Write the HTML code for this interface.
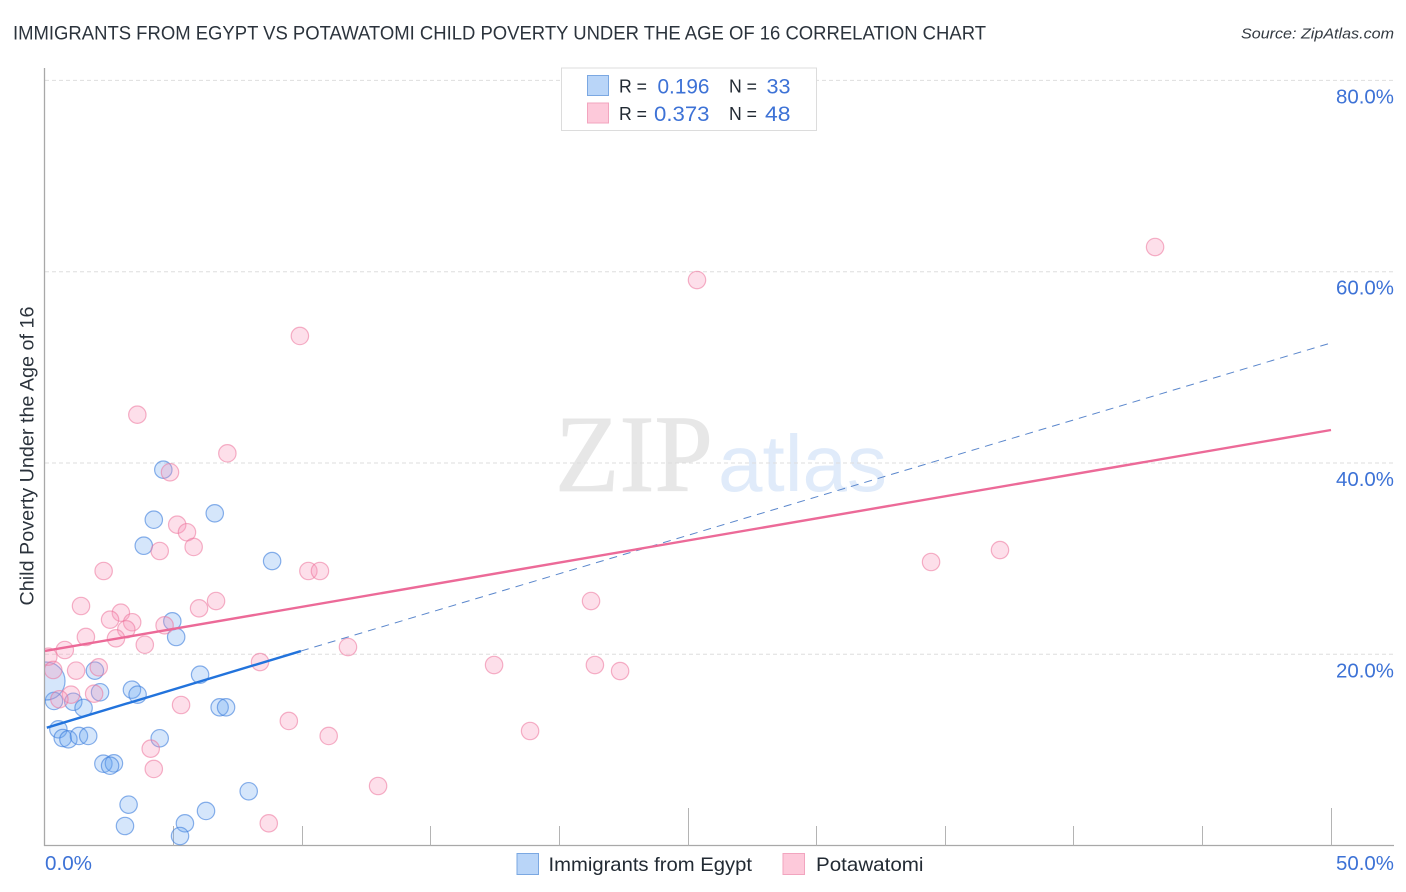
<!DOCTYPE html>
<html lang="en">
<head>
<meta charset="utf-8">
<title>Immigrants from Egypt vs Potawatomi Child Poverty Under the Age of 16 Correlation Chart</title>
<style>
html,body{margin:0;padding:0;background:#fff;}
body{width:1406px;height:892px;overflow:hidden;}
svg{display:block;font-family:"Liberation Sans",sans-serif;}
</style>
</head>
<body>
<svg id="chart" width="1406" height="892" viewBox="0 0 1406 892" xmlns="http://www.w3.org/2000/svg">
  <defs><clipPath id="plot-clip"><rect x="45" y="60" width="1349" height="785.5"/></clipPath></defs>
  <text x="13" y="39.5" font-size="19.5" fill="#2b333c" textLength="973" lengthAdjust="spacingAndGlyphs">IMMIGRANTS FROM EGYPT VS POTAWATOMI CHILD POVERTY UNDER THE AGE OF 16 CORRELATION CHART</text>
  <text x="1241" y="38.5" font-size="15" font-style="italic" fill="#333a42" textLength="153" lengthAdjust="spacingAndGlyphs">Source: ZipAtlas.com</text>
  <g>
    <text x="555" y="491" font-family="'Liberation Serif',serif" font-size="110" fill="#e7e7e7" stroke="#e7e7e7" stroke-width="0.8" textLength="158" lengthAdjust="spacingAndGlyphs">ZIP</text>
    <text x="718" y="491" font-size="80" fill="#e0ebfa" textLength="169" lengthAdjust="spacingAndGlyphs">atlas</text>
  </g>
  <g id="grid"></g>
  <g id="axes"></g>
  <g id="series-blue" clip-path="url(#plot-clip)"></g>
  <g id="series-pink" clip-path="url(#plot-clip)"></g>
  <g id="trends"></g>
  <g id="tick-labels"></g>
  <text transform="translate(33.5,605.5) rotate(-90)" font-size="19.5" fill="#2b333c" textLength="299" lengthAdjust="spacingAndGlyphs">Child Poverty Under the Age of 16</text>

  <g>
    <rect x="561.5" y="68" width="255" height="62.5" fill="#fff" stroke="#dcdcdc" stroke-width="1"/>
    <rect x="587.5" y="75.5" width="21" height="20" fill="#b9d5f8" stroke="#7ba8e2"/>
    <rect x="587.5" y="103" width="21" height="20" fill="#fdc9da" stroke="#f2a5bf"/>
    <text x="619" y="92.5" font-size="18.5" fill="#222a33" textLength="28" lengthAdjust="spacingAndGlyphs">R =</text>
    <text x="657.5" y="93.5" font-size="21" fill="#3d72d6" textLength="52" lengthAdjust="spacingAndGlyphs">0.196</text>
    <text x="729" y="92.5" font-size="18.5" fill="#222a33" textLength="28" lengthAdjust="spacingAndGlyphs">N =</text>
    <text x="766.5" y="93.5" font-size="21" fill="#3d72d6" textLength="24" lengthAdjust="spacingAndGlyphs">33</text>
    <text x="619" y="120" font-size="18.5" fill="#222a33" textLength="28" lengthAdjust="spacingAndGlyphs">R =</text>
    <text x="654" y="121" font-size="21" fill="#3d72d6" textLength="55.5" lengthAdjust="spacingAndGlyphs">0.373</text>
    <text x="729" y="120" font-size="18.5" fill="#222a33" textLength="28" lengthAdjust="spacingAndGlyphs">N =</text>
    <text x="765" y="121" font-size="21" fill="#3d72d6" textLength="25.5" lengthAdjust="spacingAndGlyphs">48</text>
  </g>

  <g>
    <rect x="517" y="853.5" width="21.5" height="21" fill="#b9d5f8" stroke="#7ba8e2"/>
    <text x="548.5" y="871" font-size="19.5" fill="#222a33" textLength="203.5" lengthAdjust="spacingAndGlyphs">Immigrants from Egypt</text>
    <rect x="783" y="853.5" width="21.5" height="21" fill="#fdc9da" stroke="#f2a5bf"/>
    <text x="816" y="871" font-size="19.5" fill="#222a33" textLength="107.5" lengthAdjust="spacingAndGlyphs">Potawatomi</text>
  </g>
</svg>
<script>
// ---- data (percent units) ----
const blueX = [4.95,5.10,6.03,1.94,2.14,3.38,3.60,6.79,7.04,0.35,1.10,1.50,0.52,0.69,0.91,1.32,1.68,4.46,2.27,2.68,2.53,7.92,6.26,3.25,3.11,5.44,5.25,0.04,4.60,4.23,6.60,3.84,8.83];
const blueY = [23.45,21.81,17.87,18.29,16.03,16.30,15.78,14.46,14.46,15.12,15.04,14.39,12.16,11.25,11.11,11.46,11.46,11.22,8.56,8.60,8.35,5.68,3.62,4.28,2.05,2.33,1.00,17.21,39.30,34.07,34.74,31.35,29.75];
const pinkX = [3.59,7.09,4.86,5.14,5.52,5.78,4.46,2.28,10.24,10.69,6.65,5.99,1.40,2.95,2.53,3.39,3.16,2.76,1.59,3.88,4.65,0.77,0.13,0.32,1.21,2.09,1.01,1.91,0.56,5.29,8.36,9.48,11.03,4.11,4.23,8.70,9.91,25.35,43.16,11.78,17.46,21.38,22.36,21.23,18.86,12.95,34.45,37.13];
const pinkY = [45.05,41.01,39.03,33.55,32.76,31.22,30.80,28.71,28.71,28.71,25.57,24.81,25.05,24.35,23.62,23.35,22.61,21.67,21.81,21.00,23.03,20.45,19.75,18.36,18.29,18.64,15.78,15.88,15.30,14.70,19.19,13.03,11.46,10.13,8.01,2.33,53.28,59.13,62.58,20.76,18.88,18.88,18.25,25.57,11.98,6.23,29.65,30.90];
const blueTrendSolidX = [0.07,9.95];
const blueTrendSolidY = [12.33,20.34];
const blueTrendDashX = [9.95,50];
const blueTrendDashY = [20.34,52.55];
const pinkTrendX = [0,50];
const pinkTrendY = [20.35,43.45];
const yTickValues = [80,60,40,20];
const yTickLabels = ["80.0%","60.0%","40.0%","20.0%"];
const xTickValues = [5,10,15,20,25,30,35,40,45,50];
const xMajorTicks = [25,50];
const xEdgeLabels = ["0.0%","50.0%"];
const largeBlueIndex = 27;

// ---- axis functions ----
const xScale = function (v) { return 45 + v * 25.72; };
const yScale = function (v) { return 845.6 - v * 9.565; };
const NS = "http://www.w3.org/2000/svg";
function mk(parent, tag, attrs) {
  const el = document.createElementNS(NS, tag);
  for (const k in attrs) el.setAttribute(k, attrs[k]);
  parent.appendChild(el);
  return el;
}
const gridG = document.getElementById("grid");
const axesG = document.getElementById("axes");
const labelG = document.getElementById("tick-labels");
const blueG = document.getElementById("series-blue");
const pinkG = document.getElementById("series-pink");
const trendG = document.getElementById("trends");

// gridlines and y labels
yTickValues.forEach(function (v, i) {
  const y = yScale(v);
  const g = mk(gridG, "line", {x1: 45, x2: 1394, y1: y, y2: y, stroke: "#dedede", "stroke-width": 1, "stroke-dasharray": "4 3"});
  
  
  const t = mk(labelG, "text", {x: 1394, y: y + 23, "font-size": 20, fill: "#3d72d6", "text-anchor": "end", textLength: 58, lengthAdjust: "spacingAndGlyphs"});
  t.textContent = yTickLabels[i];
  
  
});

// axis lines
const yAxis = mk(axesG, "line", {x1: 44.5, x2: 44.5, y1: 68, y2: 846, stroke: "#a8a8a8", "stroke-width": 1.3});


const xAxis = mk(axesG, "line", {x1: 44, x2: 1394, y1: 845.5, y2: 845.5, stroke: "#a8a8a8", "stroke-width": 1.3});



// x ticks
xTickValues.forEach(function (v) {
  const x = Math.floor(xScale(v)) + 0.5;
  const top = xMajorTicks.indexOf(v) >= 0 ? 808 : 826;
  const tick = mk(axesG, "line", {x1: x, x2: x, y1: top, y2: 845.5, stroke: "#b4b4b4", "stroke-width": 1});
  
  
});
const xl0 = mk(labelG, "text", {x: 45, y: 870, "font-size": 20, fill: "#3d72d6", textLength: 47, lengthAdjust: "spacingAndGlyphs"});
xl0.textContent = xEdgeLabels[0];


const xl1 = mk(labelG, "text", {x: 1394, y: 870, "font-size": 20, fill: "#3d72d6", "text-anchor": "end", textLength: 58, lengthAdjust: "spacingAndGlyphs"});
xl1.textContent = xEdgeLabels[1];



// points
blueX.forEach(function (v, i) {
  const c = mk(blueG, "circle", {cx: xScale(v), cy: yScale(blueY[i]), r: i === largeBlueIndex ? 19 : 8.7, fill: "rgba(105,165,240,.28)", stroke: "rgba(60,125,220,.6)", "stroke-width": 1.2});
  
  
});
pinkX.forEach(function (v, i) {
  const c = mk(pinkG, "circle", {cx: xScale(v), cy: yScale(pinkY[i]), r: 8.7, fill: "rgba(248,150,185,.3)", stroke: "rgba(236,115,155,.55)", "stroke-width": 1.2});
  
  
});

// trend lines
const dash = mk(trendG, "line", {x1: xScale(blueTrendDashX[0]), y1: yScale(blueTrendDashY[0]), x2: xScale(blueTrendDashX[1]), y2: yScale(blueTrendDashY[1]), stroke: "#5b87cc", "stroke-width": 1, "stroke-dasharray": "8 6"});


const solid = mk(trendG, "line", {x1: xScale(blueTrendSolidX[0]), y1: yScale(blueTrendSolidY[0]), x2: xScale(blueTrendSolidX[1]), y2: yScale(blueTrendSolidY[1]), stroke: "#2273dc", "stroke-width": 2.4});


const pinkLine = mk(trendG, "line", {x1: xScale(pinkTrendX[0]), y1: yScale(pinkTrendY[0]), x2: xScale(pinkTrendX[1]), y2: yScale(pinkTrendY[1]), stroke: "#ec6a98", "stroke-width": 2.4});


</script>
</body>
</html>
